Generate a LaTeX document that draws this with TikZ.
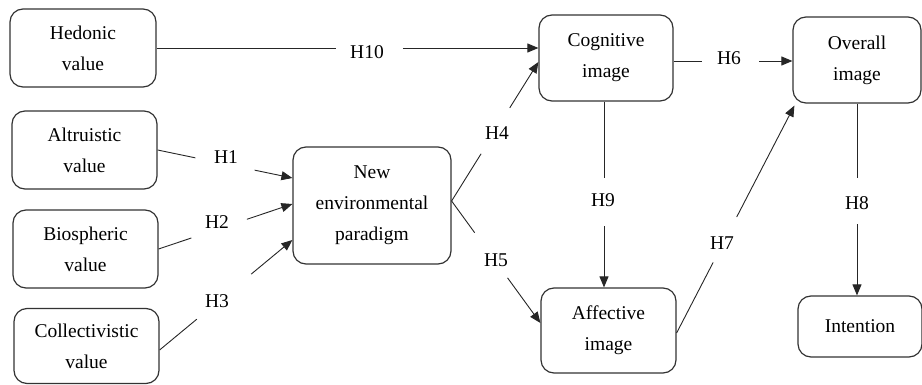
\documentclass[tikz,border=0pt]{standalone}
\usepackage{fontspec}
\setmainfont{Liberation Serif}
\usetikzlibrary{arrows.meta,calc}
\newcommand\hconn[4]{%
  \draw[conn] (#1) -- ($(#1)!#3!(#2)$);
  \draw[arr] ($(#1)!#4!(#2)$) -- (#2);}
\begin{document}
\begin{tikzpicture}[x=1pt,y=-1pt,
  box/.style={draw=black!80, line width=1.2pt, rounded corners=13pt, align=center,
    font=\fontsize{19.5}{31}\selectfont, inner sep=0pt},
  conn/.style={line width=0.9pt, draw=black!85},
  arr/.style={conn, -{Triangle[length=11pt,width=9pt]}},
  hlab/.style={font=\fontsize{19.5}{24}\selectfont, inner sep=0pt}]
\useasboundingbox (0,0) rectangle (922,385);

% boxes
\node[box, minimum width=146pt, minimum height=78pt] (hed) at (83,48) {Hedonic\\value};
\node[box, minimum width=145pt, minimum height=78pt] (alt) at (84.5,150) {Altruistic\\value};
\node[box, minimum width=145pt, minimum height=78pt] (bio) at (85.5,249) {Biospheric\\value};
\node[box, minimum width=145pt, minimum height=75pt] (col) at (86.5,346) {Collectivistic\\value};
\node[box, minimum width=158pt, minimum height=117pt] (nep) at (372,205.5) {New\\environmental\\paradigm};
\node[box, minimum width=134pt, minimum height=86pt] (cog) at (606,58) {Cognitive\\image};
\node[box, minimum width=128pt, minimum height=86pt] (ov) at (857,60) {Overall\\image};
\node[box, minimum width=135pt, minimum height=85pt] (aff) at (608.5,330.5) {Affective\\image};
\node[box, minimum width=124pt, minimum height=61pt] (int) at (860,326.5) {Intention};

% connector end points
\coordinate (e10) at (cog.west |- 0,48);
\coordinate (s10) at (hed.east |- 0,48);
\coordinate (e1) at (nep.west |- 0,178);
\coordinate (e2) at (nep.west |- 0,204);
\coordinate (e3) at (nep.west |- 0,240);
\coordinate (s3) at (col.east |- 0,350);
\coordinate (s45) at (nep.east |- 0,201);
\coordinate (e4) at (cog.west |- 0,62);
\coordinate (e5) at (aff.west |- 0,323);
\coordinate (s6) at (cog.east |- 0,61);
\coordinate (e6) at (ov.west |- 0,61);
\coordinate (s9) at (cog.south -| 604,0);
\coordinate (e9) at (aff.north -| 604,0);
\coordinate (s7) at (aff.east |- 0,333);
\coordinate (e7) at ([shift={(2,2)}]ov.south west);
\coordinate (s8) at (ov.south -| 857,0);
\coordinate (e8) at (int.north -| 857,0);

% connectors
\hconn{s10}{e10}{0.47}{0.645}
\hconn{alt.east}{e1}{0.28}{0.72}
\hconn{bio.east}{e2}{0.245}{0.66}
\hconn{s3}{e3}{0.28}{0.69}
\hconn{s45}{e4}{0.34}{0.67}
\hconn{s45}{e5}{0.26}{0.63}
\hconn{s6}{e6}{0.24}{0.72}
\hconn{s9}{e9}{0.41}{0.67}
\hconn{s7}{e7}{0.31}{0.51}
\hconn{s8}{e8}{0.39}{0.63}

% labels
\node[hlab] (h10) at (367,52) {H10};
\node[hlab] (h1) at (226,157) {H1};
\node[hlab] (h2) at (217,222) {H2};
\node[hlab] (h3) at (217,301) {H3};
\node[hlab] (h4) at (497,133) {H4};
\node[hlab] (h5) at (496,260) {H5};
\node[hlab] (h6) at (729,58) {H6};
\node[hlab] (h9) at (603,200) {H9};
\node[hlab] (h7) at (722,243) {H7};
\node[hlab] (h8) at (857,203) {H8};
\end{tikzpicture}
\end{document}
